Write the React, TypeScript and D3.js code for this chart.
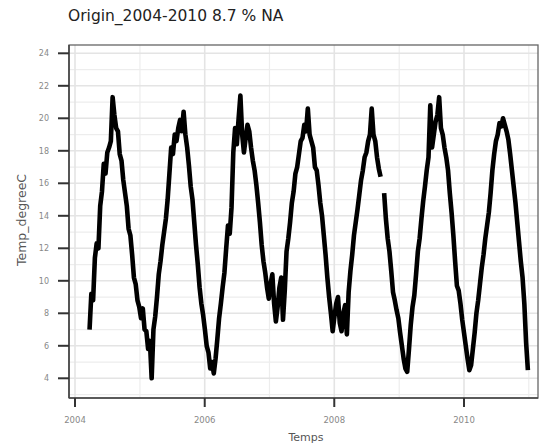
import React from "react";
import * as d3 from "d3";

const TITLE = "Origin_2004-2010 8.7 % NA";
const X_LABEL = "Temps";
const Y_LABEL = "Temp_degreeC";
const X_TICK_YEARS = [2004, 2006, 2008, 2010];
const X_MINOR_YEARS = [2005, 2007, 2009, 2011];
const Y_TICKS = [4, 6, 8, 10, 12, 14, 16, 18, 20, 22, 24];
const Y_MINOR = [3, 5, 7, 9, 11, 13, 15, 17, 19, 21, 23];

// series: one value every 10 days, starting 2004-03-23 (null = missing)
const START = new Date(2004, 2, 23);
const STEP_DAYS = 10;
const temps: (number | null)[] = [
  // 2004
  7.0, 9.2, 8.8, 11.4, 12.3, 12.0, 14.6, 15.5, 17.2, 16.6, 17.9, 18.2, 18.6, 21.3, 20.2,
  19.4, 19.2, 17.8, 17.4, 16.2, 15.4, 14.6, 13.2, 12.8, 11.6, 10.2, 9.8, 8.8, 8.4,
  // 2005
  7.7, 8.3, 7.0, 6.9, 5.8, 6.3, 4.0, 7.0, 7.8, 9.0, 10.4, 11.2, 12.2, 13.0, 13.8, 15.0,
  16.6, 18.2, 17.8, 19.0, 18.6, 19.4, 19.9, 19.2, 20.4, 19.0, 18.2, 17.1, 15.8, 15.0,
  13.6, 12.2, 11.0, 9.6, 8.6, 7.9,
  // 2006
  7.0, 6.0, 5.6, 4.6, 5.0, 4.3, 5.2, 6.4, 7.7, 8.6, 9.6, 10.5, 12.0, 13.4, 12.9, 14.5,
  17.9, 19.4, 18.4, 20.0, 21.4, 19.0, 17.9, 18.8, 19.6, 19.2, 18.2, 17.4, 16.8, 15.9,
  14.8, 13.6, 12.2, 11.2, 10.5, 9.6, 8.9,
  // 2007
  9.8, 10.4, 8.6, 7.5, 8.4, 9.6, 10.2, 7.6, 9.4, 11.8, 12.6, 13.6, 14.8, 15.5, 16.6,
  17.0, 17.8, 18.6, 18.8, 19.6, 19.2, 20.6, 19.0, 18.6, 18.2, 17.0, 16.8, 15.9, 14.8,
  14.0, 12.8, 11.6, 10.2, 9.0, 8.0, 6.9,
  // 2008
  7.8, 8.6, 9.0, 7.4, 6.9, 8.0, 8.5, 6.7, 9.3, 10.6, 11.6, 12.8, 13.6, 14.4, 15.3,
  16.2, 16.8, 17.6, 17.9, 18.6, 19.0, 20.6, 19.0, 18.6, 17.6, 16.9, 16.4, null, 15.4,
  13.8, 12.6, 11.8, 10.6, 9.3, 8.8, 8.2, 7.7,
  // 2009
  6.8, 6.0, 5.2, 4.6, 4.4, 5.8, 7.3, 8.4, 9.1, 10.4, 11.8, 12.6, 13.8, 14.9, 15.8,
  16.8, 17.6, 20.8, 18.2, 19.0, 19.8, 20.2, 21.3, 19.4, 19.0, 18.2, 17.6, 16.8, 15.4,
  14.2, 12.8, 11.2, 9.7, 9.4, 8.6, 7.6,
  // 2010
  6.8, 6.0, 5.2, 4.5, 4.8, 5.8, 6.8, 8.0, 8.8, 9.8, 10.8, 11.6, 12.6, 13.4, 14.2, 15.4,
  16.8, 17.8, 18.6, 19.0, 19.7, 19.5, 20.0, 19.6, 19.2, 18.7, 17.8, 16.8, 15.8, 14.8,
  13.6, 12.4, 11.2, 10.2, 8.6, 6.2, 4.5,
];

const W = 539;
const H = 448;
const PANEL = { left: 69, right: 538, top: 45, bottom: 398 };

export default function App() {
  const xBase = d3
    .scaleTime()
    .domain([new Date(2004, 0, 1), new Date(2010, 0, 1)])
    .range([75, 464]);
  const x = d3
    .scaleTime()
    .domain([xBase.invert(PANEL.left), xBase.invert(PANEL.right)])
    .range([PANEL.left, PANEL.right]);
  const y = d3.scaleLinear().domain([4, 24]).range([378.3, 53.3]);

  const data = temps.map((v, i) => ({
    d: d3.timeDay.offset(START, i * STEP_DAYS),
    v,
  }));
  const line = d3
    .line<{ d: Date; v: number | null }>()
    .defined((p) => p.v != null)
    .x((p) => x(p.d))
    .y((p) => y(p.v as number));

  const fmt = d3.timeFormat("%Y");
  const font = "DejaVu Sans, sans-serif";

  return (
    <svg
      width={W}
      height={H}
      style={{ position: "absolute", left: 0, top: 0, background: "#fff" }}
    >
      <rect x={0} y={0} width={W} height={H} fill="#fff" />
      {/* grid */}
      {Y_MINOR.map((t) => (
        <line key={"ym" + t} x1={PANEL.left} x2={PANEL.right} y1={y(t)} y2={y(t)} stroke="#ededed" strokeWidth={1.2} />
      ))}
      {X_MINOR_YEARS.map((t) => (
        <line key={"xm" + t} x1={x(new Date(t, 0, 1))} x2={x(new Date(t, 0, 1))} y1={PANEL.top} y2={PANEL.bottom} stroke="#ededed" strokeWidth={1.2} />
      ))}
      {Y_TICKS.map((t) => (
        <line key={"yg" + t} x1={PANEL.left} x2={PANEL.right} y1={y(t)} y2={y(t)} stroke="#e4e4e4" strokeWidth={1.6} />
      ))}
      {X_TICK_YEARS.map((t) => (
        <line key={"xg" + t} x1={x(new Date(t, 0, 1))} x2={x(new Date(t, 0, 1))} y1={PANEL.top} y2={PANEL.bottom} stroke="#e4e4e4" strokeWidth={1.6} />
      ))}
      {/* series */}
      <path d={line(data) || ""} fill="none" stroke="#000" strokeWidth={4.6} strokeLinejoin="round" strokeLinecap="butt" />
      {/* panel border */}
      <rect x={PANEL.left} y={PANEL.top} width={PANEL.right - PANEL.left} height={PANEL.bottom - PANEL.top} fill="none" stroke="#666" strokeWidth={1.3} />
      <line x1={PANEL.left} x2={PANEL.left} y1={PANEL.top} y2={PANEL.bottom} stroke="#444" strokeWidth={1.6} />
      <line x1={PANEL.left} x2={PANEL.right} y1={PANEL.bottom} y2={PANEL.bottom} stroke="#444" strokeWidth={1.6} />
      {/* y ticks */}
      {Y_TICKS.map((t) => (
        <g key={"yt" + t}>
          <line x1={58} x2={PANEL.left} y1={y(t)} y2={y(t)} stroke="#333" strokeWidth={2} />
          <text x={49} y={y(t)} dy="0.35em" textAnchor="end" fontFamily={font} fontSize={8} fill="#888">
            {t}
          </text>
        </g>
      ))}
      {/* x ticks */}
      {X_TICK_YEARS.map((t) => {
        const d = new Date(t, 0, 1);
        return (
          <g key={"xt" + t}>
            <line x1={x(d)} x2={x(d)} y1={PANEL.bottom} y2={407} stroke="#333" strokeWidth={2} />
            <text x={x(d)} y={422.5} textAnchor="middle" fontFamily={font} fontSize={8.5} fill="#888">
              {fmt(d)}
            </text>
          </g>
        );
      })}
      {/* titles */}
      <text x={68} y={21} fontFamily={font} fontSize={15.5} fill="#222">
        {TITLE}
      </text>
      <text x={306} y={441} textAnchor="middle" fontFamily={font} fontSize={11} fill="#555">
        {X_LABEL}
      </text>
      <text transform="translate(26,220) rotate(-90)" textAnchor="middle" fontFamily={font} fontSize={12.5} fill="#555">
        {Y_LABEL}
      </text>
    </svg>
  );
}
